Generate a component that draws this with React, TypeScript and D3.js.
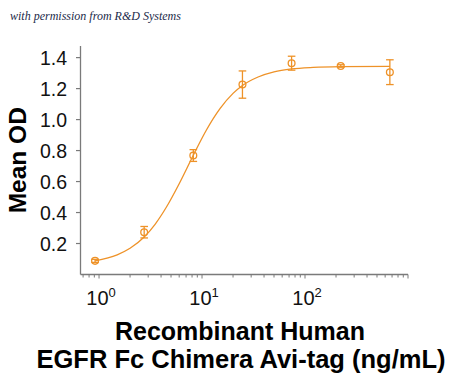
import React from "react";
import * as d3 from "d3";

// Concentrations (ng/mL), 3-fold dilution series
const concentrations = [0.9145, 2.743, 8.23, 24.69, 74.07, 222.2, 666.7];
// Mean OD values
const meanOD = [0.088, 0.273, 0.768, 1.226, 1.364, 1.346, 1.306];
// Error bar half-heights
const errors = [0.01, 0.037, 0.038, 0.088, 0.045, 0.008, 0.08];

// Fitted curve
const curveConc = [0.9145, 1.5, 2.0, 2.743, 3.5, 4.5, 6, 8.23, 11, 15, 20, 24.69, 35, 50, 74.07, 120, 222.2, 666.7];
const curveOD = [0.088, 0.127, 0.169, 0.242, 0.324, 0.434, 0.586, 0.77, 0.931, 1.072, 1.169, 1.22, 1.275, 1.308, 1.327, 1.337, 1.342, 1.344];

const yTicks = [0.2, 0.4, 0.6, 0.8, 1.0, 1.2, 1.4];
const xMajor = [1, 10, 100];
const xMajorExp = ["0", "1", "2"];

const W = 450;
const H = 378;
const ORANGE = "#EE9228";
const AXIS = "#7a7a7a";

export default function App() {
  const x = d3.scaleLog().domain([0.668, 1000]).range([81, 408]);
  const y = d3.scaleLinear().domain([0, 1.475]).range([274.5, 46]);

  const minorTicks: number[] = [];
  for (let e = -1; e <= 2; e++) {
    for (let m = 1; m <= 10; m++) {
      const v = m * Math.pow(10, e);
      if (v >= 0.668 && v <= 1000.0001) minorTicks.push(v);
    }
  }
  const uniqMinor = Array.from(new Set(minorTicks.map((v) => +v.toPrecision(6))));

  const line = d3
    .line<number>()
    .x((_, i) => x(curveConc[i]))
    .y((d) => y(d))
    .curve(d3.curveMonotoneX);

  const axisBottom = 274.5;
  const axisLeft = 80.5;

  return (
    <svg
      width={W}
      height={H}
      style={{ position: "absolute", left: 0, top: 0, background: "#fff" }}
      fontFamily="'Liberation Sans', Arial, sans-serif"
    >
      <rect x={0} y={0} width={W} height={H} fill="#fff" />
      <text
        x={10}
        y={20}
        fontFamily="'Liberation Serif', 'DejaVu Serif', serif"
        fontStyle="italic"
        fontSize={12}
        fill="#1c2a4a"
      >
        with permission from R&amp;D Systems
      </text>

      {/* Y axis */}
      <line x1={axisLeft} x2={axisLeft} y1={46} y2={axisBottom} stroke={AXIS} strokeWidth={1.3} />
      {yTicks.map((t) => (
        <g key={t}>
          <line x1={axisLeft - 4.5} x2={axisLeft} y1={y(t)} y2={y(t)} stroke={AXIS} strokeWidth={1.2} />
          <text x={67} y={y(t)} dy="0.36em" textAnchor="end" fontSize={19.5} fill="#111">
            {t.toFixed(1)}
          </text>
        </g>
      ))}

      {/* X axis */}
      <line x1={axisLeft} x2={x(1000)} y1={axisBottom} y2={axisBottom} stroke={AXIS} strokeWidth={1.3} />
      {uniqMinor.map((t) => {
        const isMajor = [1, 10, 100, 1000].includes(t);
        return (
          <line
            key={t}
            x1={x(t)}
            x2={x(t)}
            y1={axisBottom}
            y2={axisBottom + (isMajor ? 4 : 3)}
            stroke={AXIS}
            strokeWidth={1}
          />
        );
      })}
      {xMajor.map((t, i) => (
        <text key={t} x={x(t) + 2} y={305} textAnchor="middle" fontSize={20} fill="#111">
          <tspan>10</tspan>
          <tspan dy={-8} fontSize={13}>
            {xMajorExp[i]}
          </tspan>
        </text>
      ))}

      {/* Axis titles */}
      <text
        transform={`translate(26,${(46 + axisBottom) / 2}) rotate(-90)`}
        textAnchor="middle"
        fontSize={24.5}
        fontWeight="bold"
        fill="#000"
      >
        Mean OD
      </text>
      <text x={240} y={340} textAnchor="middle" fontSize={25} fontWeight="bold" fill="#000">
        Recombinant Human
      </text>
      <text x={241} y={368} textAnchor="middle" fontSize={25.5} fontWeight="bold" fill="#000">
        EGFR Fc Chimera Avi-tag (ng/mL)
      </text>

      {/* Fitted curve */}
      <path d={line(curveOD) || ""} fill="none" stroke={ORANGE} strokeWidth={1.3} />

      {/* Error bars & points */}
      {concentrations.map((c, i) => {
        const cx = x(c);
        const top = y(meanOD[i] + errors[i]);
        const bot = y(meanOD[i] - errors[i]);
        return (
          <g key={c} stroke={ORANGE} strokeWidth={1.3} fill="none">
            <line x1={cx} x2={cx} y1={top} y2={bot} />
            <line x1={cx - 3.8} x2={cx + 3.8} y1={top} y2={top} />
            <line x1={cx - 3.8} x2={cx + 3.8} y1={bot} y2={bot} />
            <circle cx={cx} cy={y(meanOD[i])} r={3.4} />
          </g>
        );
      })}
    </svg>
  );
}
